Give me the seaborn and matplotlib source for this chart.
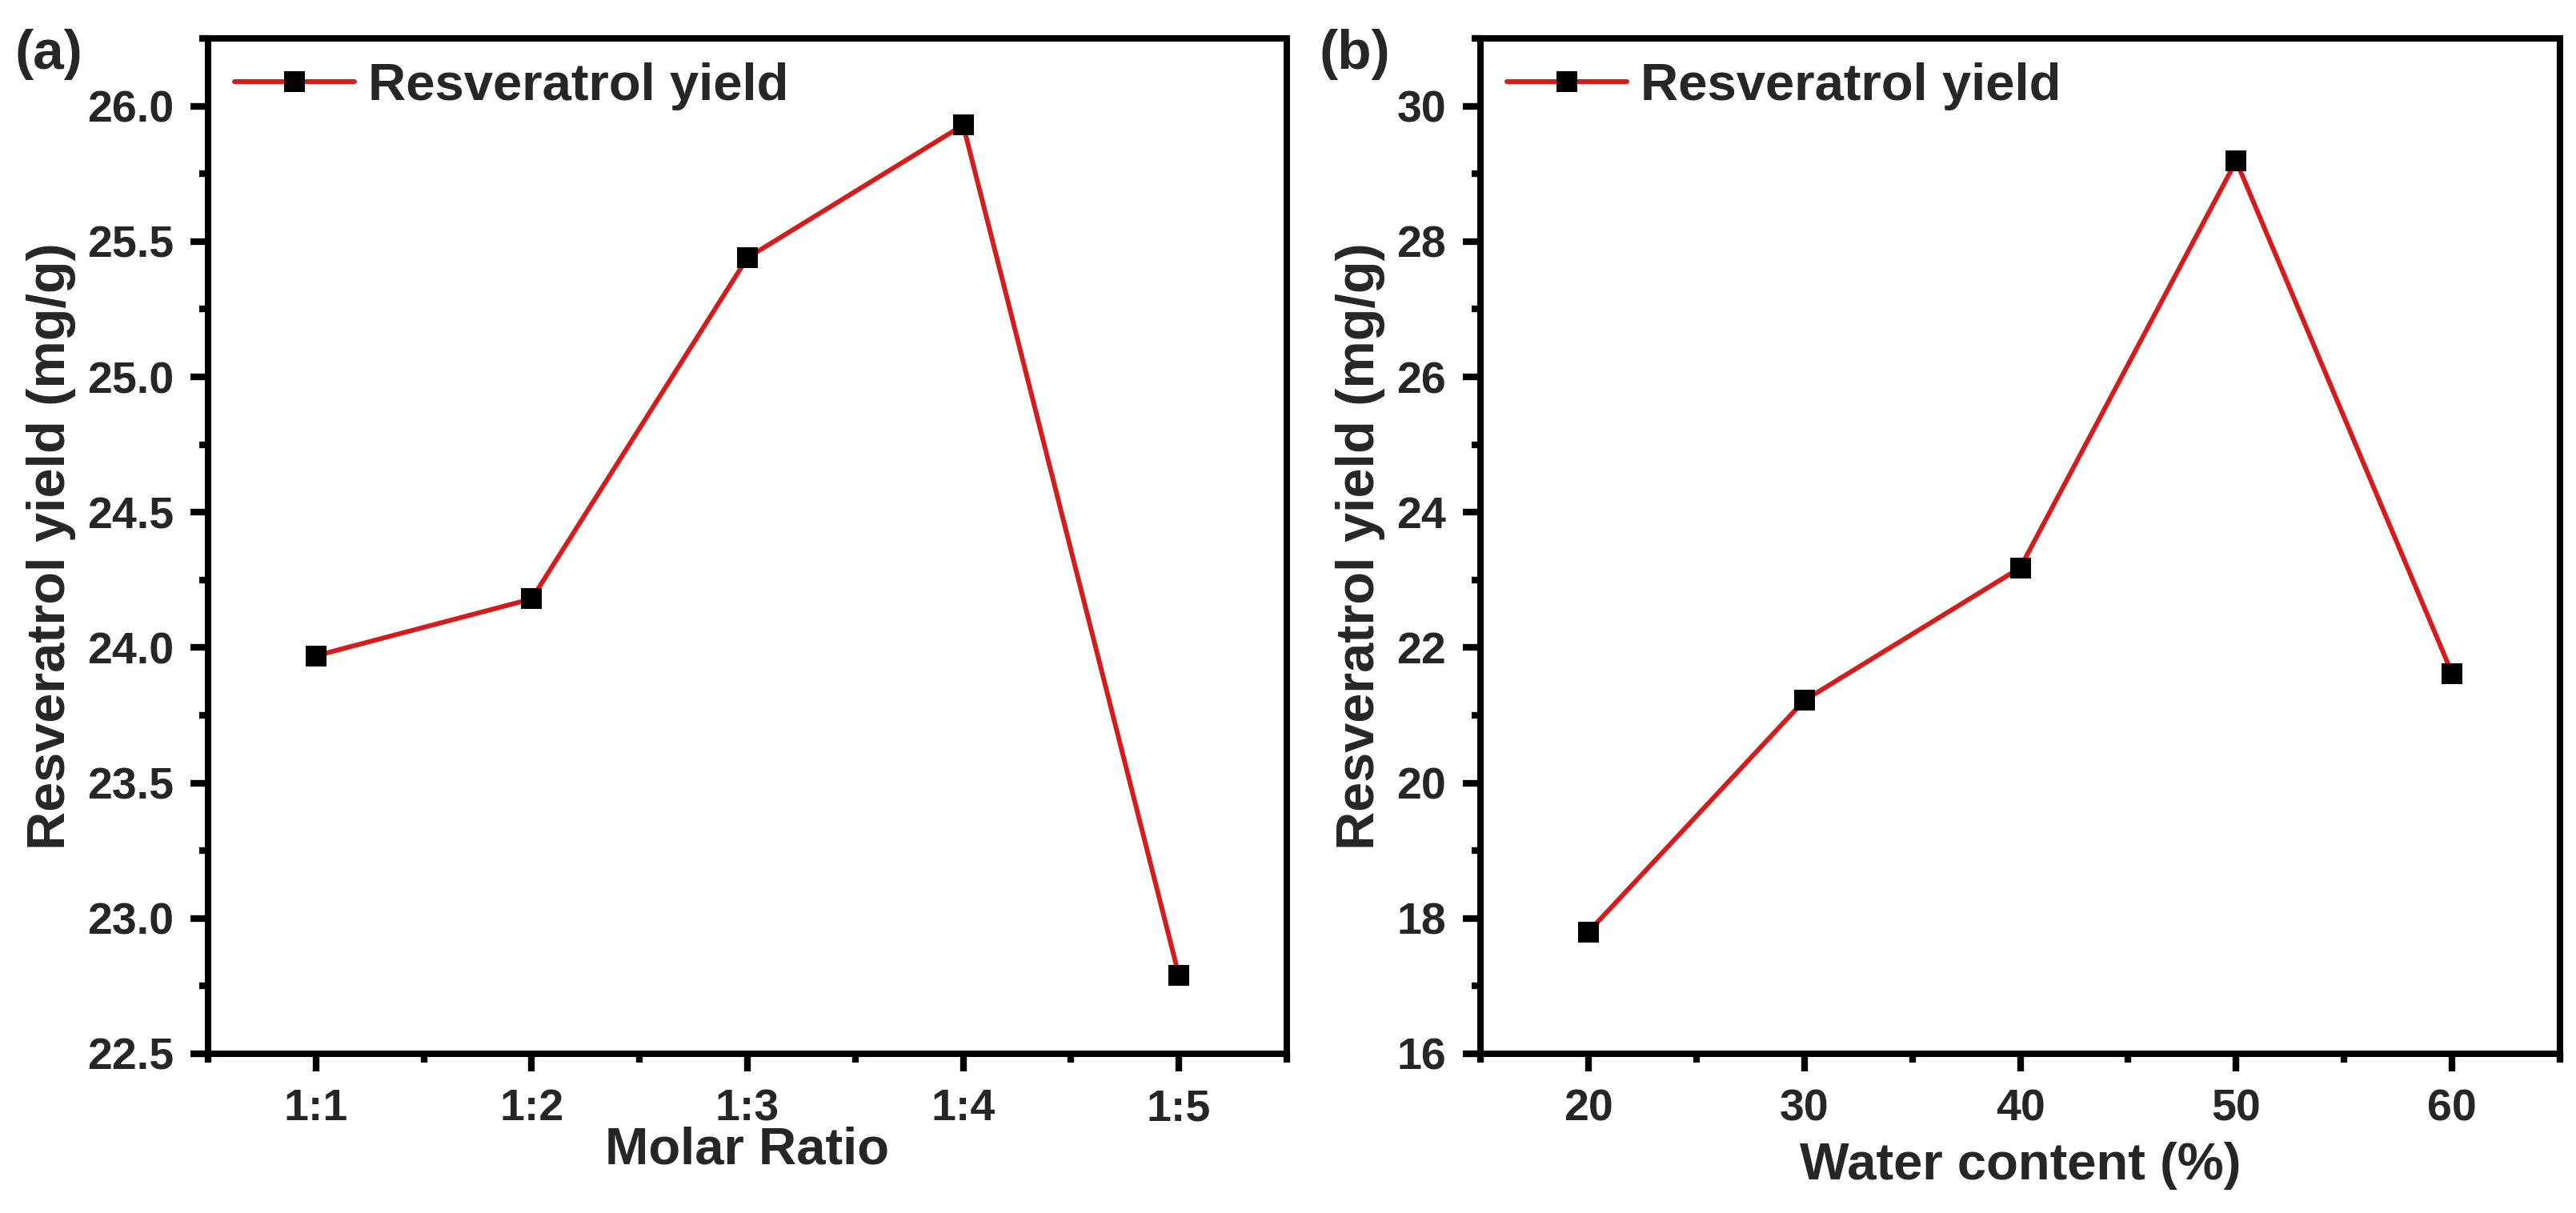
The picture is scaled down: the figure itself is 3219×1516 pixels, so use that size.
import numpy as np
import matplotlib
matplotlib.use("Agg")
import matplotlib.pyplot as plt
from matplotlib.ticker import MultipleLocator
import pandas as pd
import seaborn as sns

# panel (a): molar ratio
ratio_labels = ["1:1", "1:2", "1:3", "1:4", "1:5"]
ratio_yield = [23.97, 24.18, 25.44, 25.93, 22.79]

# panel (b): water content
water_content = [20, 30, 40, 50, 60]
water_yield = [17.80, 21.22, 23.18, 29.19, 21.62]

series_name = "Resveratrol yield"
ylabel = "Resveratrol yield (mg/g)"

sns.set_style("ticks")
plt.rcParams["font.family"] = ["Liberation Sans", "DejaVu Sans"]
plt.rcParams["font.weight"] = "bold"
plt.rcParams["axes.labelweight"] = "bold"

red = "#d41c1c"
line_kws = dict(color=red, linewidth=4.3, marker="s", markersize=19,
                markerfacecolor="black", markeredgecolor="black",
                markeredgewidth=0, label=series_name)

fig = plt.figure(figsize=(32.19, 15.16), dpi=100)
ax_a = fig.add_axes([0.0808, 0.1313, 0.4187, 0.8370])
ax_b = fig.add_axes([0.5747, 0.1313, 0.4191, 0.8370])

df_a = pd.DataFrame({"ratio": ratio_labels, "yield": ratio_yield})
df_b = pd.DataFrame({"water": water_content, "yield": water_yield})

sns.lineplot(data=df_a, x="ratio", y="yield", ax=ax_a, **line_kws)
sns.lineplot(data=df_b, x="water", y="yield", ax=ax_b, **line_kws)

# axis ranges and ticks
ax_a.set_xlim(-0.5, 4.5)
ax_a.set_xticks(np.arange(-0.5, 5, 1), minor=True)
ax_a.set_ylim(22.5, 26.25)
ax_a.set_yticks(np.arange(22.5, 26.01, 0.5))
ax_a.set_yticklabels([f"{v:.1f}" for v in np.arange(22.5, 26.01, 0.5)])
ax_a.yaxis.set_minor_locator(MultipleLocator(0.25))
ax_a.set_xlabel("Molar Ratio", fontsize=47, fontweight="bold", labelpad=-3)

ax_b.set_xlim(15, 65)
ax_b.set_xticks([20, 30, 40, 50, 60])
ax_b.xaxis.set_minor_locator(MultipleLocator(5))
ax_b.set_ylim(16, 31)
ax_b.set_yticks(np.arange(16, 31, 2))
ax_b.yaxis.set_minor_locator(MultipleLocator(1))
ax_b.set_xlabel("Water content (%)", fontsize=47, fontweight="bold", labelpad=11)

for ax in (ax_a, ax_b):
    ax.set_ylabel(ylabel, fontsize=48, fontweight="bold", labelpad=10)
    for s in ax.spines.values():
        s.set_linewidth(5.8)
        s.set_color("black")
    ax.tick_params(which="major", direction="out", length=16, width=6,
                   pad=15, labelsize=40, top=False, right=False, color="black")
    ax.tick_params(which="minor", direction="out", length=8, width=6,
                   top=False, right=False, color="black")
    ax.legend(loc="center left", bbox_to_anchor=(0.0245, 0.9527), frameon=False,
              fontsize=47, handlelength=2.3, handletextpad=0.26,
              borderpad=0, borderaxespad=0, numpoints=1)

fig.text(18 / 3219, 1 - 36 / 1516, "(a)", fontsize=50, fontweight="bold",
         ha="left", va="top")
fig.text(1649 / 3219, 1 - 36 / 1516, "(b)", fontsize=50, fontweight="bold",
         ha="left", va="top")

fig.savefig("out.png", dpi=100)
